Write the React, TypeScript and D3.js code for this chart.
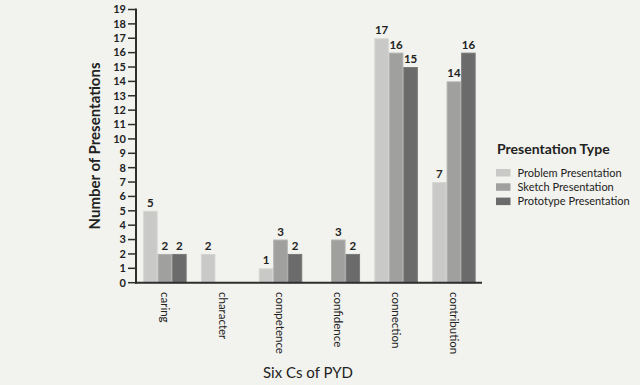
import React from "react";
import * as d3 from "d3";

const categories = ["caring", "character", "competence", "confidence", "connection", "contribution"];
const seriesNames = ["Problem Presentation", "Sketch Presentation", "Prototype Presentation"];
const problemValues = [5, 2, 1, 0, 17, 7];
const sketchValues = [2, 0, 3, 3, 16, 14];
const prototypeValues = [2, 0, 2, 2, 15, 16];
const yTicks = d3.range(0, 20);
const colors = ["#c9c9c7", "#a0a09f", "#6b6b6b"];
const strokes = ["#d6d6d4", "#b0b0ae", "#7a7a7a"];

const W = 640, H = 385;
const margin = { left: 136, right: 158, top: 9.5, bottom: 102.3 };

export default function App() {
  const series = [problemValues, sketchValues, prototypeValues];
  const x0 = d3.scaleBand().domain(categories).range([margin.left, 482.8]).paddingInner(0.247).paddingOuter(0.1235);
  const x1 = d3.scaleBand().domain(seriesNames).range([0, x0.bandwidth()]);
  const y = d3.scaleLinear().domain([0, 19]).range([H - margin.bottom, margin.top]);
  const font = "Lato, 'DejaVu Sans', sans-serif";
  const axisColor = "#2e2e2e";
  return (
    <svg width={W} height={H} style={{ position: "absolute", left: 0, top: 0, background: "#f2f2ee" }} fontFamily={font}>
      <rect x={0} y={0} width={W} height={H} fill="#f2f2ee" />
      {/* bars */}
      {categories.map((c, ci) => (
        <g key={c}>
          {series.map((vals, si) => {
            const v = vals[ci];
            if (!v) return null;
            const bx = (x0(c) as number) + (x1(seriesNames[si]) as number);
            return (
              <g key={si}>
                <rect x={bx + 0.5} y={y(v) + 0.5} width={x1.bandwidth() - 1} height={y(0) - y(v) - 0.5}
                  fill={colors[si]} stroke={strokes[si]} strokeWidth={1} />
                <text x={bx + x1.bandwidth() / 2} y={y(v) - 4} textAnchor="middle" fontSize={11.5} fontWeight={700} fill="#222">{v}</text>
              </g>
            );
          })}
        </g>
      ))}
      {/* y axis */}
      <line x1={margin.left} x2={margin.left} y1={y(19) - 1} y2={y(0) + 1} stroke={axisColor} strokeWidth={2} />
      {yTicks.map(t => (
        <g key={t}>
          <line x1={margin.left - 8} x2={margin.left} y1={y(t)} y2={y(t)} stroke={axisColor} strokeWidth={1.5} />
          <text x={margin.left - 10} y={y(t)} dy="0.35em" textAnchor="end" fontSize={11} fontWeight={700} fill="#222">{t}</text>
        </g>
      ))}
      {/* x axis */}
      <line x1={margin.left - 1} x2={482} y1={y(0)} y2={y(0)} stroke={axisColor} strokeWidth={2} />
      {categories.map(c => {
        const cx = (x0(c) as number) + x0.bandwidth() / 2;
        return (
          <text key={c} transform={`translate(${cx},${292}) rotate(90)`} dy="0.35em" textAnchor="start" fontSize={11.5} fill="#222">{c}</text>
        );
      })}
      <text x={308} y={378} textAnchor="middle" fontSize={15} fill="#222">Six Cs of PYD</text>
      <text transform={`translate(100,146) rotate(-90)`} textAnchor="middle" fontSize={15} fontWeight={700} fill="#222">Number of  Presentations</text>
      {/* legend */}
      <text x={497} y={154} fontSize={14} fontWeight={700} fill="#222">Presentation Type</text>
      {seriesNames.map((s, i) => (
        <g key={s} transform={`translate(496,${169 + i * 14.3})`}>
          <rect x={0} y={0} width={14.5} height={7.5} fill={colors[i]} />
          <text x={21.5} y={3.9} dy="0.35em" fontSize={11} fill="#222">{s}</text>
        </g>
      ))}
    </svg>
  );
}
